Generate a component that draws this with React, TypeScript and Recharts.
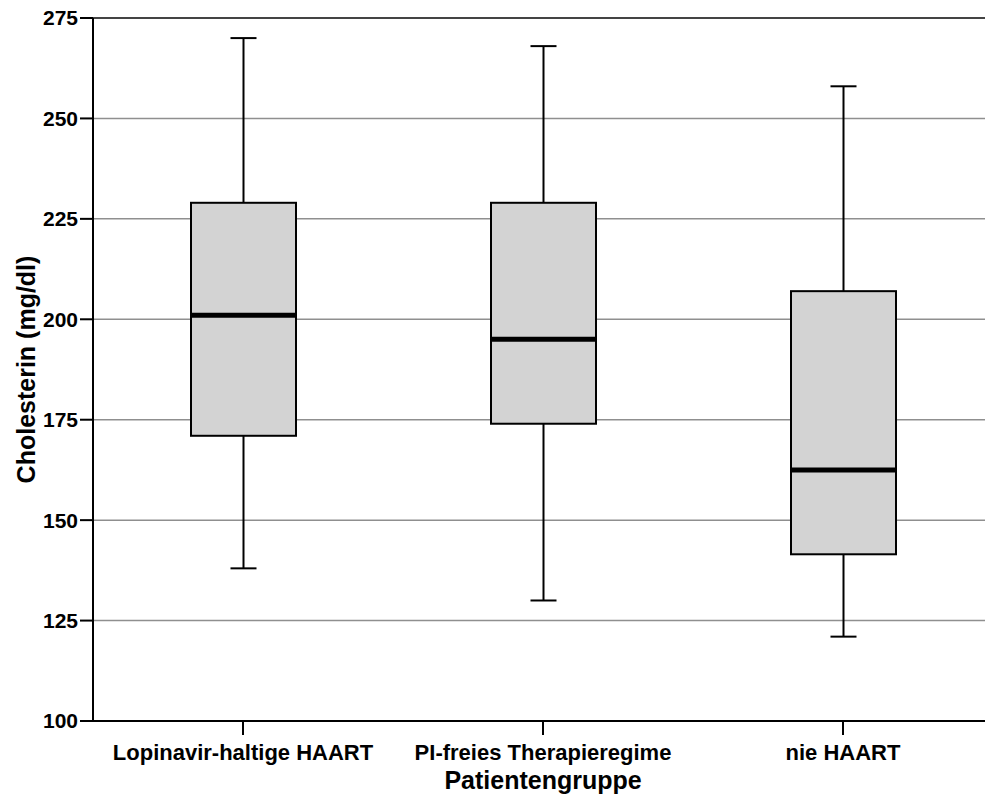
import React from 'react';
import { ComposedChart, Bar, XAxis, YAxis, CartesianGrid, ReferenceLine } from 'recharts';

// Cholesterol (mg/dl) per patient group: whiskers, quartiles, median
const groups = ['Lopinavir-haltige HAART', 'PI-freies Therapieregime', 'nie HAART'];
const minValues = [138, 130, 121];
const q1Values = [171, 174, 141.5];
const medianValues = [201, 195, 162.5];
const q3Values = [229, 229, 207];
const maxValues = [270, 268, 258];
const yTicks = [100, 125, 150, 175, 200, 225, 250, 275];

// stacked segments: invisible base, lower whisker, lower box, upper box, upper whisker
const data = groups.map((name, i) => ({
  name,
  base: minValues[i],
  lowWhisker: q1Values[i] - minValues[i],
  lowBox: medianValues[i] - q1Values[i],
  highBox: q3Values[i] - medianValues[i],
  highWhisker: maxValues[i] - q3Values[i],
}));

const FONT = '"Liberation Sans", Arial, sans-serif';
const CAP = 26;

const Empty = () => <g />;

const LowWhisker = (p: any) => {
  const cx = p.x + p.width / 2;
  const bottom = p.y + p.height;
  return (
    <g>
      <line x1={cx} x2={cx} y1={p.y} y2={bottom} stroke="#000" strokeWidth={2} />
      <line x1={cx - CAP / 2} x2={cx + CAP / 2} y1={bottom} y2={bottom} stroke="#000" strokeWidth={2} />
    </g>
  );
};

const HighWhisker = (p: any) => {
  const cx = p.x + p.width / 2;
  return (
    <g>
      <line x1={cx} x2={cx} y1={p.y} y2={p.y + p.height} stroke="#000" strokeWidth={2} />
      <line x1={cx - CAP / 2} x2={cx + CAP / 2} y1={p.y} y2={p.y} stroke="#000" strokeWidth={2} />
    </g>
  );
};

const LowBox = (p: any) => (
  <rect x={p.x} y={p.y} width={p.width} height={p.height} fill="#d3d3d3" stroke="#000" strokeWidth={2} />
);

// upper half of the box, with the median drawn along its bottom edge
const HighBox = (p: any) => {
  const bottom = p.y + p.height;
  return (
    <g>
      <rect x={p.x} y={p.y} width={p.width} height={p.height} fill="#d3d3d3" stroke="#000" strokeWidth={2} />
      <line x1={p.x} x2={p.x + p.width} y1={bottom} y2={bottom} stroke="#000" strokeWidth={5} />
    </g>
  );
};

const YTitle = (props: any) => {
  const vb = props.viewBox;
  const x = vb.x + 26;
  const y = vb.y + vb.height / 2;
  return (
    <text x={x} y={y} transform={`rotate(-90, ${x}, ${y})`} textAnchor="middle" dominantBaseline="central"
      fontFamily={FONT} fontWeight="bold" fontSize={25} fill="#000">
      Cholesterin (mg/dl)
    </text>
  );
};

const XTitle = (props: any) => {
  const vb = props.viewBox;
  return (
    <text x={vb.x + vb.width / 2} y={vb.y + 68} textAnchor="middle"
      fontFamily={FONT} fontWeight="bold" fontSize={25} fill="#000">
      Patientengruppe
    </text>
  );
};

export default function App() {
  return (
    <div style={{ position: 'absolute', left: 0, top: 0, width: 985, height: 800, overflow: 'hidden', background: '#fff' }}>
      <ComposedChart width={1000} height={800} data={data} margin={{ top: 18, right: 7, bottom: 0, left: 0 }}>
        <CartesianGrid vertical={false} stroke="#8f8f8f" strokeWidth={1.5} />
        <ReferenceLine y={275} stroke="#444" strokeWidth={2} />
        <XAxis
          dataKey="name"
          height={79}
          tickSize={14}
          tickMargin={9}
          axisLine={{ stroke: '#000', strokeWidth: 2 }}
          tickLine={{ stroke: '#000', strokeWidth: 2 }}
          tick={{ fill: '#000', fontSize: 22, fontWeight: 'bold', fontFamily: FONT }}
          interval={0}
          label={{ content: XTitle }}
        />
        <YAxis
          type="number"
          domain={[100, 275]}
          allowDataOverflow
          ticks={yTicks}
          width={93}
          tickSize={13}
          tickMargin={2}
          axisLine={{ stroke: '#000', strokeWidth: 2 }}
          tickLine={{ stroke: '#000', strokeWidth: 2 }}
          tick={{ fill: '#000', fontSize: 21, fontWeight: 'bold', fontFamily: FONT }}
          label={{ content: YTitle }}
        />
        <Bar dataKey="base" stackId="box" barSize={105} shape={Empty} isAnimationActive={false} />
        <Bar dataKey="lowWhisker" stackId="box" barSize={105} shape={LowWhisker} isAnimationActive={false} />
        <Bar dataKey="lowBox" stackId="box" barSize={105} shape={LowBox} isAnimationActive={false} />
        <Bar dataKey="highBox" stackId="box" barSize={105} shape={HighBox} isAnimationActive={false} />
        <Bar dataKey="highWhisker" stackId="box" barSize={105} shape={HighWhisker} isAnimationActive={false} />
      </ComposedChart>
    </div>
  );
}
